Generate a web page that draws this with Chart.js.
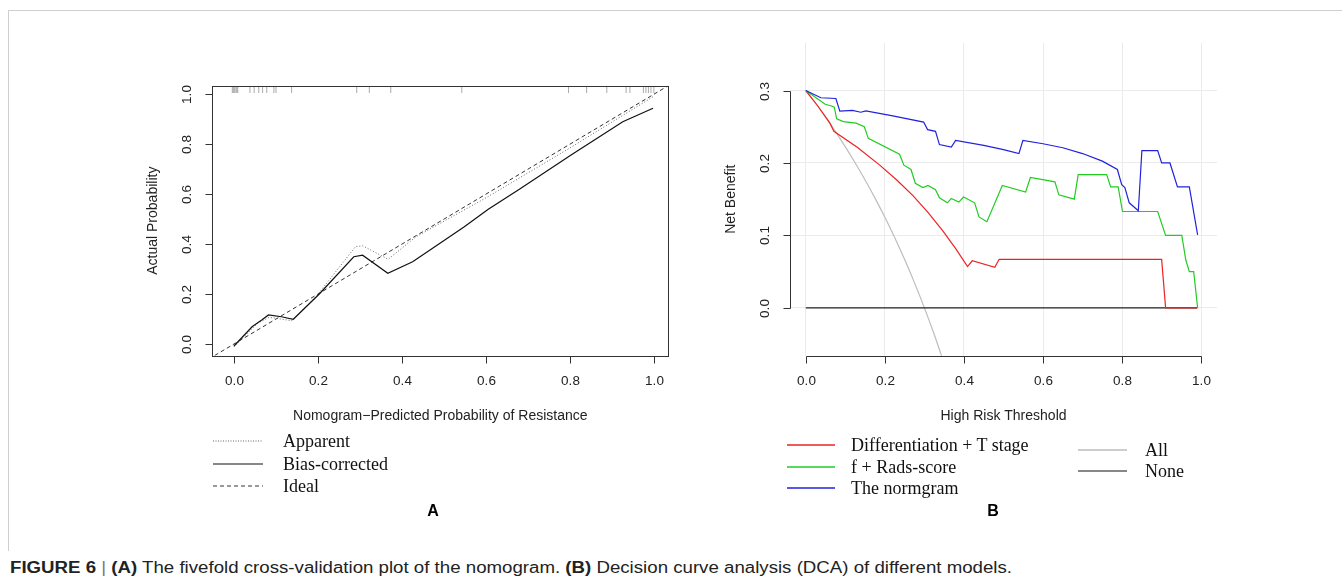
<!DOCTYPE html>
<html>
<head>
<meta charset="utf-8">
<script src="https://cdn.jsdelivr.net/npm/chart.js@4.4.1/dist/chart.umd.min.js"></script>
<style>
  body { margin: 0; background: #fff; width: 1342px; height: 585px; position: relative; overflow: hidden; font-family: "Liberation Sans", Arial, sans-serif; }
  #frame { position: absolute; left: 8px; top: 10px; width: 1334px; height: 540px; border-top: 1px solid #cfcfcf; border-left: 1px solid #cfcfcf; }
  canvas { position: absolute; }
  #cA { left: 120px; top: 60px; }
  #cB { left: 700px; top: 20px; }
  .row { position: absolute; height: 22px; line-height: 22px; font-family: "Liberation Serif", "Times New Roman", serif; font-size: 18px; color: #111; white-space: nowrap; }
  .row svg { position: absolute; left: 0; top: 9px; }
  .panel { position: absolute; font-weight: bold; font-size: 16px; transform: translate(-50%, -50%); }
  #cap { position: absolute; left: 10px; top: 559px; font-size: 16px; color: #222; white-space: nowrap; transform-origin: 0 0; }
</style>
</head>
<body>
<div id="frame"></div>
<canvas id="cA" width="570" height="380"></canvas>
<canvas id="cB" width="540" height="420"></canvas>

<!-- legend A -->
<div class="row" style="left:213px;top:430px"><svg width="50" height="4"><line x1="0" y1="2" x2="50" y2="2" stroke="#666" stroke-width="1" stroke-dasharray="1 1.5"/></svg><span style="margin-left:70px">Apparent</span></div>
<div class="row" style="left:213px;top:453px"><svg width="50" height="4"><line x1="0" y1="2" x2="50" y2="2" stroke="#111" stroke-width="1.2"/></svg><span style="margin-left:70px">Bias-corrected</span></div>
<div class="row" style="left:213px;top:475px"><svg width="50" height="4"><line x1="0" y1="2" x2="50" y2="2" stroke="#333" stroke-width="1" stroke-dasharray="4 3"/></svg><span style="margin-left:70px">Ideal</span></div>

<!-- legend B -->
<div class="row" style="left:787px;top:434px"><svg width="48" height="4"><line x1="0" y1="2" x2="48" y2="2" stroke="#ee2222" stroke-width="1.3"/></svg><span style="margin-left:64px">Differentiation + T stage</span></div>
<div class="row" style="left:787px;top:456px"><svg width="48" height="4"><line x1="0" y1="2" x2="48" y2="2" stroke="#22cc22" stroke-width="1.3"/></svg><span style="margin-left:64px">f + Rads-score</span></div>
<div class="row" style="left:787px;top:477px"><svg width="48" height="4"><line x1="0" y1="2" x2="48" y2="2" stroke="#2222dd" stroke-width="1.3"/></svg><span style="margin-left:64px">The normgram</span></div>
<div class="row" style="left:1078px;top:439px"><svg width="49" height="4"><line x1="0" y1="2" x2="49" y2="2" stroke="#bdbdbd" stroke-width="1.3"/></svg><span style="margin-left:67px">All</span></div>
<div class="row" style="left:1078px;top:460px"><svg width="49" height="4"><line x1="0" y1="2" x2="49" y2="2" stroke="#111" stroke-width="1.2"/></svg><span style="margin-left:67px">None</span></div>

<div class="panel" style="left:433px;top:511px">A</div>
<div class="panel" style="left:993px;top:511px">B</div>

<div id="cap"><b>FIGURE 6</b> <span style="color:#777">|</span> <b>(A)</b> The fivefold cross-validation plot of the nomogram. <b>(B)</b> Decision curve analysis (DCA) of different models.</div>

<script>
// ---- panel A: calibration ----
const calTicks = [0, 0.2, 0.4, 0.6, 0.8, 1.0];
const apparentX = [0.0, 0.056, 0.084, 0.138, 0.195, 0.289, 0.306, 0.367, 0.433, 0.6, 0.8, 0.997];
const apparentY = [-0.011, 0.083, 0.107, 0.093, 0.189, 0.389, 0.393, 0.339, 0.429, 0.585, 0.785, 0.989];
const biasX = [0.0, 0.043, 0.066, 0.082, 0.113, 0.141, 0.203, 0.285, 0.306, 0.366, 0.425, 0.498, 0.548, 0.605, 0.679, 0.802, 0.925, 0.997];
const biasY = [-0.008, 0.069, 0.096, 0.116, 0.109, 0.099, 0.2, 0.349, 0.355, 0.283, 0.329, 0.412, 0.469, 0.539, 0.619, 0.756, 0.889, 0.943];
const idealX = [-0.06, 1.04];
const idealY = [-0.06, 1.04];
const rugX = [-0.004, -0.002, 0, 0.002, 0.005, 0.007, 0.009, 0.038, 0.048, 0.059, 0.068, 0.078, 0.095, 0.1, 0.137,
  0.292, 0.322, 0.373, 0.542, 0.796, 0.839, 0.887, 0.933, 0.942, 0.974, 0.98, 0.986, 0.992, 0.999];

// ---- panel B: decision curves ----
const dcaXTicks = [0, 0.2, 0.4, 0.6, 0.8, 1.0];
const dcaYTicks = [0, 0.1, 0.2, 0.3];
const redX = [0, 0.03, 0.061, 0.071, 0.13, 0.187, 0.23, 0.271, 0.31, 0.347, 0.38, 0.409, 0.421, 0.478, 0.489, 0.900, 0.910, 0.990];
const redY = [0.300, 0.279, 0.255, 0.2437, 0.2217, 0.197, 0.1765, 0.155, 0.131, 0.106, 0.081, 0.057, 0.065, 0.056, 0.067, 0.067, 0.0, 0.0];
const greenX = [0, 0.049, 0.063, 0.072, 0.078, 0.095, 0.127, 0.148, 0.158, 0.237, 0.248, 0.266, 0.277, 0.296, 0.309, 0.328, 0.338,
  0.358, 0.368, 0.387, 0.399, 0.427, 0.438, 0.458, 0.497, 0.556, 0.568, 0.630, 0.640, 0.679, 0.689, 0.761, 0.771, 0.790, 0.801,
  0.890, 0.910, 0.951, 0.961, 0.970, 0.981, 0.991];
const greenY = [0.300, 0.281, 0.279, 0.277, 0.261, 0.257, 0.255, 0.250, 0.234, 0.212, 0.197, 0.191, 0.172, 0.166, 0.169, 0.163, 0.152,
  0.145, 0.151, 0.146, 0.153, 0.145, 0.1255, 0.119, 0.169, 0.160, 0.180, 0.174, 0.156, 0.150, 0.184, 0.184, 0.167, 0.167, 0.133,
  0.133, 0.100, 0.100, 0.0664, 0.050, 0.050, 0.0];
const blueX = [0, 0.038, 0.076, 0.086, 0.118, 0.139, 0.152, 0.22, 0.298, 0.308, 0.328, 0.338, 0.368, 0.379, 0.45, 0.50, 0.539, 0.549,
  0.60, 0.65, 0.70, 0.75, 0.788, 0.799, 0.807, 0.818, 0.841, 0.850, 0.890, 0.900, 0.921, 0.940, 0.970, 0.991];
const blueY = [0.300, 0.290, 0.289, 0.2715, 0.2725, 0.270, 0.272, 0.265, 0.2565, 0.246, 0.2437, 0.2254, 0.222, 0.231, 0.2243, 0.2184, 0.213, 0.231,
  0.2265, 0.221, 0.213, 0.2025, 0.191, 0.170, 0.166, 0.145, 0.134, 0.217, 0.217, 0.200, 0.200, 0.167, 0.167, 0.1008];
const allX = [0, 0.025, 0.05, 0.075, 0.1, 0.125, 0.15, 0.175, 0.2, 0.225, 0.25, 0.275, 0.3, 0.325, 0.35];
const allY = [0.3, 0.2821, 0.2632, 0.2432, 0.2222, 0.2, 0.1765, 0.1515, 0.125, 0.0968, 0.0667, 0.0345, 0.0, -0.037, -0.0769];
const noneX = [0, 0.99];
const noneY = [0, 0];

const pts = (xs, ys) => xs.map((x, i) => ({ x: x, y: ys[i] }));
const tickFont = '13.5px "Liberation Sans", Arial, sans-serif';
const titleFont = '14px "Liberation Sans", Arial, sans-serif';

// R style axes: ticks, rotated y labels, titles
function rAxes(o) {
  return {
    id: 'rAxes',
    afterDraw(chart) {
      const { ctx, chartArea: a, scales } = chart;
      const sx = scales.x, sy = scales.y;
      ctx.save();
      ctx.strokeStyle = '#333';
      ctx.lineWidth = 1;
      ctx.fillStyle = '#222';
      ctx.font = tickFont;
      const L = Math.round(a.left) + 0.5, B = Math.round(a.bottom) + 0.5;
      if (o.box) {
        ctx.strokeRect(L, Math.round(a.top) + 0.5, Math.round(a.right) - Math.round(a.left), Math.round(a.bottom) - Math.round(a.top));
      }
      const xp = o.xTicks.map(v => Math.round(sx.getPixelForValue(v)) + 0.5);
      const yp = o.yTicks.map(v => Math.round(sy.getPixelForValue(v)) + 0.5);
      ctx.beginPath();
      if (!o.box) {
        ctx.moveTo(xp[0], B); ctx.lineTo(xp[xp.length - 1], B);
        ctx.moveTo(L, yp[0]); ctx.lineTo(L, yp[yp.length - 1]);
      }
      xp.forEach(p => { ctx.moveTo(p, B); ctx.lineTo(p, B + 7); });
      yp.forEach(p => { ctx.moveTo(L, p); ctx.lineTo(L - 7, p); });
      ctx.stroke();
      ctx.textAlign = 'center';
      ctx.textBaseline = 'middle';
      o.xTicks.forEach((v, i) => ctx.fillText(v.toFixed(1), xp[i], a.bottom + 26));
      o.yTicks.forEach((v, i) => {
        ctx.save();
        ctx.translate(a.left - 25, yp[i]);
        ctx.rotate(-Math.PI / 2);
        ctx.fillText(v.toFixed(1), 0, 0);
        ctx.restore();
      });
      ctx.font = titleFont;
      ctx.fillText(o.xTitle, (a.left + a.right) / 2, a.bottom + 60);
      ctx.save();
      ctx.translate(a.left - 59, (a.top + a.bottom) / 2);
      ctx.rotate(-Math.PI / 2);
      ctx.fillText(o.yTitle, 0, 0);
      ctx.restore();
      ctx.restore();
    }
  };
}

const hiddenScale = (min, max, ticks, grid) => ({
  type: 'linear', min: min, max: max,
  afterBuildTicks: s => { s.ticks = ticks.map(v => ({ value: v })); },
  ticks: { display: false },
  border: { display: false },
  grid: grid ? { color: '#ebebeb', lineWidth: 1, drawTicks: false } : { display: false, drawTicks: false }
});

new Chart(document.getElementById('cA'), {
  type: 'line',
  data: {
    datasets: [
      { data: pts(biasX, biasY), borderColor: '#111', borderWidth: 1.2, pointRadius: 0, tension: 0 },
      { data: pts(apparentX, apparentY), borderColor: '#666', borderWidth: 1, borderDash: [1, 2], pointRadius: 0, tension: 0 },
      { data: pts(idealX, idealY), borderColor: '#333', borderWidth: 1, borderDash: [4, 3], pointRadius: 0 },
      { data: rugX.map(x => ({ x: x, y: 1.018 })), showLine: false, pointStyle: 'line', rotation: 90, pointRadius: 3.5,
        borderColor: '#aaa', borderWidth: 1 }
    ]
  },
  options: {
    responsive: false, animation: false, events: [],
    layout: { padding: { left: 92.3, top: 25.7, right: 21.7, bottom: 84.3 } },
    plugins: { legend: { display: false }, tooltip: { enabled: false } },
    scales: {
      x: hiddenScale(-0.0516, 1.0333, calTicks, false),
      y: hiddenScale(-0.0468, 1.0332, calTicks, false)
    }
  },
  plugins: [rAxes({ box: true, xTicks: calTicks, yTicks: calTicks,
    xTitle: 'Nomogram\u2212Predicted Probability of Resistance', yTitle: 'Actual Probability' })]
});

new Chart(document.getElementById('cB'), {
  type: 'line',
  data: {
    datasets: [
      { data: pts(blueX, blueY), borderColor: '#2222dd', borderWidth: 1.2, pointRadius: 0, tension: 0 },
      { data: pts(greenX, greenY), borderColor: '#22cc22', borderWidth: 1.2, pointRadius: 0, tension: 0 },
      { data: pts(redX, redY), borderColor: '#ee2222', borderWidth: 1.2, pointRadius: 0, tension: 0 },
      { data: pts(noneX, noneY), borderColor: '#222', borderWidth: 1.2, pointRadius: 0 },
      { data: pts(allX, allY), borderColor: '#bdbdbd', borderWidth: 1.2, pointRadius: 0, cubicInterpolationMode: 'monotone' }
    ]
  },
  options: {
    responsive: false, animation: false, events: [],
    layout: { padding: { left: 90, top: 22.7, right: 23, bottom: 84.3 } },
    plugins: { legend: { display: false }, tooltip: { enabled: false } },
    scales: {
      x: hiddenScale(-0.04, 1.04, dcaXTicks, true),
      y: hiddenScale(-0.066, 0.366, dcaYTicks, true)
    }
  },
  plugins: [rAxes({ box: false, xTicks: dcaXTicks, yTicks: dcaYTicks,
    xTitle: 'High Risk Threshold', yTitle: 'Net Benefit' })]
});

// caption set in a condensed face: squeeze to the width seen in the figure
const cap = document.getElementById('cap');
cap.style.transform = 'scaleX(' + (1002 / cap.scrollWidth) + ')';
</script>
</body>
</html>
